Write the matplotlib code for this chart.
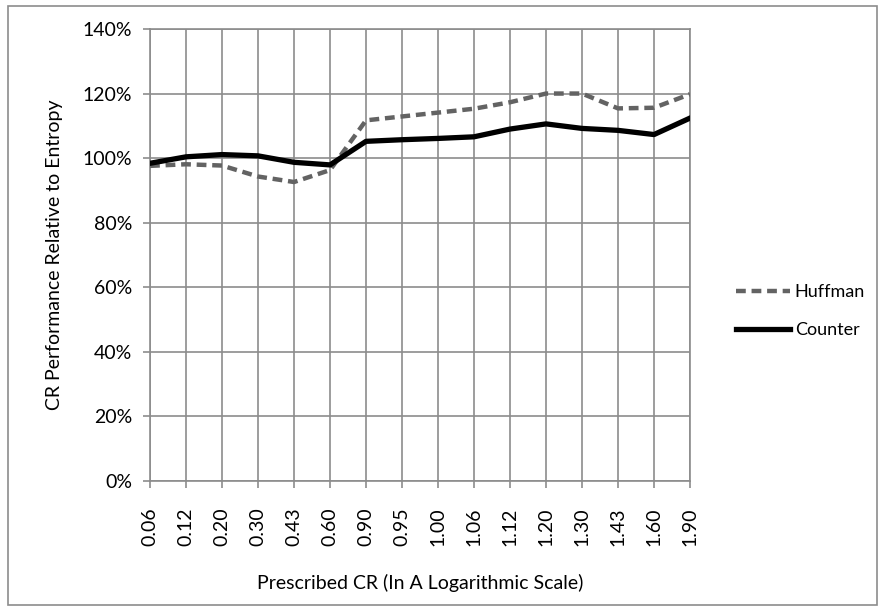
import numpy as np
import matplotlib
matplotlib.use("Agg")
import matplotlib.pyplot as plt
from matplotlib.patches import Rectangle

plt.rcParams["font.family"] = ["Lato", "DejaVu Sans"]

# data (percent)
cr_labels = ["0.06", "0.12", "0.20", "0.30", "0.43", "0.60", "0.90", "0.95",
             "1.00", "1.06", "1.12", "1.20", "1.30", "1.43", "1.60", "1.90"]
huffman = [97.6, 98.1, 97.7, 94.3, 92.6, 96.3, 111.7, 112.9,
           114.1, 115.3, 117.3, 120.0, 120.0, 115.4, 115.6, 119.8]
counter = [98.4, 100.4, 101.1, 100.7, 98.7, 97.9, 105.2, 105.7,
           106.1, 106.6, 109.0, 110.6, 109.2, 108.6, 107.3, 112.4]

grid_col = "#8c8c8c"
x = np.arange(len(cr_labels))

fig = plt.figure(figsize=(8.8, 6.1), dpi=100)
ax = fig.add_axes([0.1705, 0.2115, 0.6136, 0.741])

ax.plot(x, huffman, color="#636363", lw=3.2, dashes=(2.2, 1.3), label="Huffman",
        solid_capstyle="butt", zorder=3)
ax.plot(x, counter, color="black", lw=3.8, label="Counter", zorder=4)

ax.set_xlim(0, len(cr_labels) - 1)
ax.set_ylim(0, 140)
ax.set_yticks(np.arange(0, 141, 20))
ax.set_yticklabels([f"{v}%" for v in range(0, 141, 20)])
ax.set_xticks(x)
ax.set_xticklabels(cr_labels, rotation=90)

ax.grid(True, color=grid_col, lw=1.2)
ax.set_axisbelow(True)
for s in ax.spines.values():
    s.set_color(grid_col)
    s.set_linewidth(1.2)
ax.tick_params(axis="both", colors=grid_col, length=5, width=1.2,
               labelcolor="black", labelsize=14)
ax.tick_params(axis="x", pad=14)
ax.tick_params(axis="y", pad=8)

ax.set_ylabel("CR Performance Relative to Entropy", fontsize=14, labelpad=14)
ax.set_xlabel("Prescribed CR (In A Logarithmic Scale)", fontsize=14, labelpad=20)

ax.legend(loc="center left", bbox_to_anchor=(0.818, 0.49), bbox_transform=fig.transFigure,
          frameon=False, fontsize=13, handlelength=3.0, handletextpad=0.25,
          labelspacing=1.2)

# chart border
fig.patches.append(Rectangle((0.009, 0.008), 0.988, 0.982, transform=fig.transFigure,
                             fill=False, edgecolor=grid_col, lw=1.2))

fig.savefig("out.png", dpi=100)
